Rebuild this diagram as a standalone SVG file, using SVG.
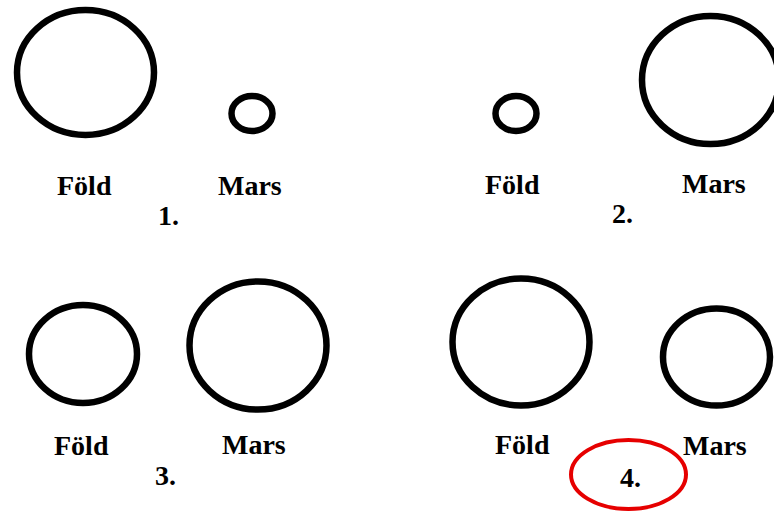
<svg xmlns="http://www.w3.org/2000/svg" width="774" height="511" viewBox="0 0 774 511">
<style>
.p{fill:none;stroke:#000;stroke-width:6.5}
.t{font-family:"Liberation Serif","Times New Roman",serif;font-weight:bold;font-size:28px;fill:#000}
.hl{fill:none;stroke:#e60000;stroke-width:4}
</style>
<rect width="774" height="511" fill="#fff"/>
<g id="panel1">
<g id="p1-fold"><ellipse class="p" cx="85.5" cy="72.5" rx="68.5" ry="62.5"/><text class="t" x="57" y="195">Föld</text></g>
<g id="p1-mars"><ellipse class="p" cx="252" cy="113.5" rx="20.5" ry="17.5"/><text class="t" x="218" y="195">Mars</text></g>
<text class="t" x="158" y="225">1.</text>
</g>
<g id="panel2">
<g id="p2-fold"><ellipse class="p" cx="516" cy="113.5" rx="20.5" ry="17.5"/><text class="t" x="485" y="194">Föld</text></g>
<g id="p2-mars"><ellipse class="p" cx="710.5" cy="80" rx="68.5" ry="64"/><text class="t" x="682" y="193">Mars</text></g>
<text class="t" x="612" y="223">2.</text>
</g>
<g id="panel3">
<g id="p3-fold"><ellipse class="p" cx="83" cy="354" rx="54" ry="49"/><text class="t" x="54" y="455">Föld</text></g>
<g id="p3-mars"><ellipse class="p" cx="258" cy="345.5" rx="68.5" ry="64"/><text class="t" x="222" y="454">Mars</text></g>
<text class="t" x="155" y="485">3.</text>
</g>
<g id="panel4">
<g id="p4-fold"><ellipse class="p" cx="521" cy="342" rx="68.5" ry="63.5"/><text class="t" x="495" y="454">Föld</text></g>
<g id="p4-mars"><ellipse class="p" cx="716.5" cy="357" rx="53.5" ry="48.5"/><text class="t" x="683" y="455">Mars</text></g>
<text class="t" x="620" y="487">4.</text>
<ellipse id="highlight" class="hl" cx="628.5" cy="474.5" rx="57.5" ry="34.5"/>
</g>
</svg>
